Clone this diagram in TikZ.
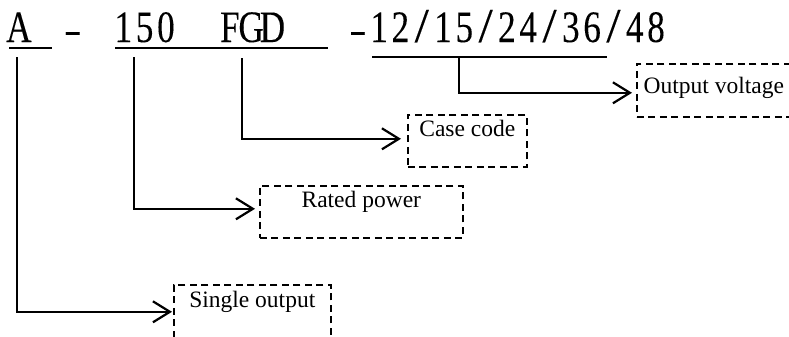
\documentclass[tikz,border=0pt]{standalone}
\usepackage{fontspec}
\usepackage{graphicx}
\setmainfont{Liberation Serif}
\newfontfamily\codefont[FakeStretch=0.78,FakeBold=0.12]{Liberation Serif}
\usetikzlibrary{arrows.meta,calc}
\newlength\cellw
\setlength\cellw{21.3bp}
\newcommand\cc[1]{\makebox[\cellw][c]{#1}}
\newcommand\cs{\makebox[\cellw][c]{\scalebox{1.45}[1.08]{/}}}
\newcommand\cm{\makebox[\cellw][c]{\scalebox{1.5}[0.8]{-}}}
\begin{document}
\begin{tikzpicture}[x=1bp,y=-1bp,
  code/.style={anchor=base west,inner sep=0pt,font=\codefont\fontsize{45bp}{48bp}\selectfont},
  labelbox/.style={draw,dash pattern=on 7bp off 4.5bp,line width=1.6bp,anchor=north west,inner sep=0pt,font=\fontsize{23.5bp}{26bp}\selectfont},
  uline/.style={line width=2bp},
  conn/.style={line width=2bp,-{Straight Barb[length=17bp,width=21bp,line width=2.2bp]},shorten >=4bp}]
\useasboundingbox (0,0) rectangle (789,336);
% code text
\node[code] (cA) at (8,42) {\cc{A}};
\node[code] (cD) at (61.85,42) {\cm};
\node[code] (cPF) at (112.5,42) {\cc{1}\cc{5}\cc{0}\cc{}\cc{}\cc{F}\cc{G}\cc{D}};
\node[code] (cV) at (347,42) {\cm\cc{1}\cc{2}\cs\cc{1}\cc{5}\cs\cc{2}\cc{4}\cs\cc{3}\cc{6}\cs\cc{4}\cc{8}};
% underlines
\draw[uline] (9,48) -- (52,48);
\draw[uline] (115,48) -- (328,48);
\draw[uline] (372,57) -- (607,57);
% connector starts
\coordinate (sA) at (17,57);
\coordinate (sP) at (134,57);
\coordinate (sF) at (242,58);
\coordinate (sV) at (459,57);
% boxes
\node[labelbox,minimum width=119bp,text height=22bp,text depth=30bp] (bCase) at (407,114) {Case code};
\node[labelbox,minimum width=203bp,text height=22bp,text depth=30bp] (bRated) at (259,185) {Rated power};
\node[labelbox,minimum width=157bp,text height=23bp,text depth=31bp] (bSingle) at (173,284) {Single output};
\node[labelbox,minimum width=154bp,text height=30bp,text depth=23bp] (bOut) at (636,63) {Output voltage};
% connectors
\draw[conn,shorten >=1bp] (sA) |- (bSingle.west);
\draw[conn] (sP) |- ($(bRated.west)+(0,-3)$);
\draw[conn,shorten >=6bp] (sF) |- ($(bCase.west)+(0,-2)$);
\draw[conn] (sV) |- ($(bOut.west)+(0,2.5)$);
\end{tikzpicture}
\end{document}
